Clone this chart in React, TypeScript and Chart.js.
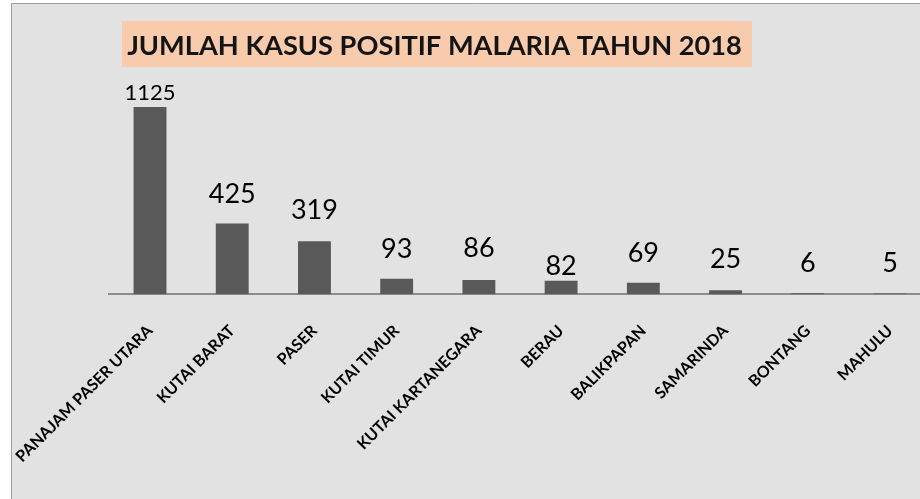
import React, { useEffect, useRef } from "react";
import { Chart, registerables } from "chart.js";

Chart.register(...registerables);

// ---- data ----
const categories = [
  "PANAJAM PASER UTARA",
  "KUTAI BARAT",
  "PASER",
  "KUTAI TIMUR",
  "KUTAI KARTANEGARA",
  "BERAU",
  "BALIKPAPAN",
  "SAMARINDA",
  "BONTANG",
  "MAHULU",
];
const cases = [1125, 425, 319, 93, 86, 82, 69, 25, 6, 5];
const yAxisMax = 1200;
const chartTitle = "JUMLAH KASUS POSITIF MALARIA TAHUN 2018";

// ---- label styling (gap above bar in px, font size in px) ----
const labelGaps = [7, 21, 22, 21, 23, 6, 21, 22, 21, 21];
const labelSizes = [22, 27, 27, 27, 27, 27, 27, 27, 27, 27];

const FONT = "Lato, 'Open Sans', sans-serif";

const framePlugin = {
  id: "frame",
  beforeDraw(chart: any) {
    const { ctx, width, height } = chart;
    ctx.save();
    ctx.fillStyle = "#ffffff";
    ctx.fillRect(0, 0, width, height);
    ctx.fillStyle = "#e2e2e2";
    ctx.fillRect(11, 3, width - 11, height - 3);
    ctx.strokeStyle = "#a0a0a0";
    ctx.lineWidth = 1;
    ctx.beginPath();
    ctx.moveTo(11.5, height);
    ctx.lineTo(11.5, 3.5);
    ctx.lineTo(width, 3.5);
    ctx.stroke();
    // title box
    ctx.fillStyle = "#f8cbad";
    ctx.fillRect(122, 21, 630, 46);
    ctx.fillStyle = "#141414";
    ctx.font = `bold 28px ${FONT}`;
    const w = ctx.measureText(chartTitle).width;
    const size = (28 * 615) / w;
    ctx.font = `bold ${size.toFixed(2)}px ${FONT}`;
    ctx.textAlign = "center";
    ctx.textBaseline = "alphabetic";
    ctx.fillText(chartTitle, 434.5, 55);
    ctx.restore();
  },
};

const valueLabelPlugin = {
  id: "valueLabels",
  afterDatasetsDraw(chart: any) {
    const { ctx } = chart;
    const meta = chart.getDatasetMeta(0);
    ctx.save();
    ctx.fillStyle = "#000000";
    ctx.textAlign = "center";
    ctx.textBaseline = "alphabetic";
    meta.data.forEach((bar: any, i: number) => {
      ctx.font = `${labelSizes[i]}px ${FONT}`;
      ctx.fillText(String(cases[i]), bar.x, bar.y - labelGaps[i]);
    });
    ctx.restore();
  },
};

export default function App() {
  const canvasRef = useRef<HTMLCanvasElement | null>(null);

  useEffect(() => {
    if (!canvasRef.current) return;
    const chart = new Chart(canvasRef.current, {
      type: "bar",
      data: {
        labels: categories,
        datasets: [
          {
            data: cases,
            backgroundColor: "#595959",
            borderWidth: 0,
            barPercentage: 1,
            categoryPercentage: 0.4,
          },
        ],
      },
      options: {
        responsive: false,
        animation: false,
        layout: { padding: { left: 108.9, right: 8.9, top: 94.6, bottom: 0 } },
        plugins: {
          legend: { display: false },
          tooltip: { enabled: false },
          title: { display: false },
        },
        scales: {
          x: {
            grid: { display: false, drawTicks: false },
            border: { display: true, color: "#8c8c8c", width: 2 },
            ticks: {
              autoSkip: false,
              minRotation: 45,
              maxRotation: 45,
              color: "#000000",
              padding: 27,
              font: { family: FONT, size: 16, weight: "bold" },
            },
            afterFit: (s: any) => {
              s.height = 204.7;
              s.paddingLeft = 0;
              s.paddingRight = 0;
            },
          },
          y: { display: false, min: 0, max: yAxisMax },
        },
      },
      plugins: [framePlugin, valueLabelPlugin],
    } as any);
    return () => chart.destroy();
  }, []);

  return (
    <div
      style={{
        position: "fixed",
        left: 0,
        top: 0,
        width: 920,
        height: 499,
        overflow: "hidden",
        background: "#ffffff",
      }}
    >
      <canvas ref={canvasRef} width={940} height={499} style={{ display: "block" }} />
    </div>
  );
}
